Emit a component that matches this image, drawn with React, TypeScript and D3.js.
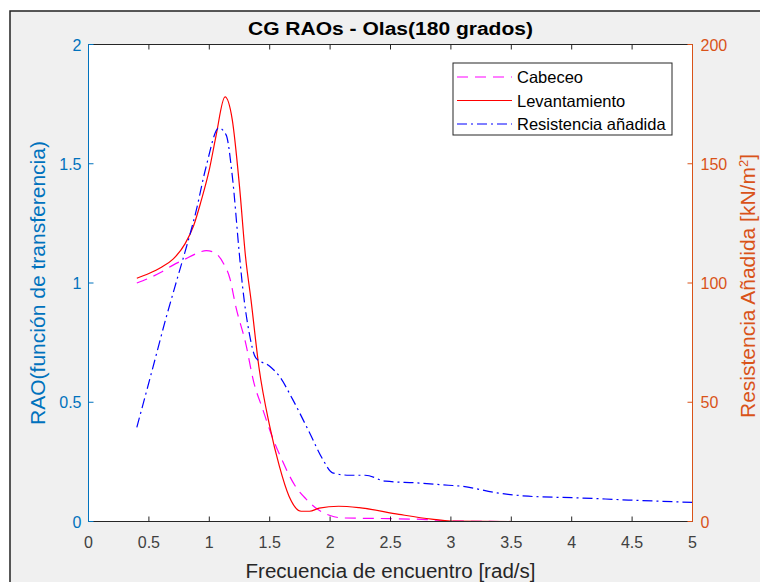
import React from "react";
import * as d3 from "d3";

const cabeceoF = [0.4, 0.5, 0.6, 0.7, 0.8, 0.9, 0.975, 1.05, 1.12, 1.17, 1.22, 1.3, 1.37, 1.44, 1.51, 1.6, 1.71, 1.8, 1.9, 2.0, 2.1, 2.5, 2.8, 3.0, 3.5, 4.0, 4.5, 5.0];
const cabeceoV = [1.0, 1.02, 1.045, 1.075, 1.1, 1.125, 1.136, 1.125, 1.08, 1.02, 0.9, 0.75, 0.58, 0.474, 0.37, 0.26, 0.15, 0.095, 0.05, 0.025, 0.015, 0.012, 0.008, 0.002, 0, 0, 0, 0];

const levantF = [0.4, 0.5, 0.6, 0.7, 0.8, 0.87, 0.93, 1.0, 1.055, 1.13, 1.19, 1.25, 1.3, 1.345, 1.41, 1.5, 1.58, 1.66, 1.76, 1.83, 1.91, 2.07, 2.24, 2.57, 2.84, 3.0, 3.5, 4.0, 4.5, 5.0];
const levantV = [1.02, 1.04, 1.065, 1.1, 1.165, 1.24, 1.34, 1.475, 1.615, 1.78, 1.685, 1.405, 1.11, 0.93, 0.65, 0.4, 0.232, 0.106, 0.043, 0.043, 0.056, 0.064, 0.058, 0.03, 0.01, 0.002, 0, 0, 0, 0];

const resistF = [0.4, 0.53, 0.64, 0.73, 0.81, 0.89, 0.97, 1.08, 1.14, 1.19, 1.25, 1.275, 1.33, 1.385, 1.5, 1.58, 1.69, 1.83, 1.94, 2.02, 2.16, 2.29, 2.46, 2.71, 2.98, 3.09, 3.37, 3.64, 4.06, 4.47, 5.0];
const resistV = [39.5, 64, 85, 101, 115, 130, 148, 165, 162, 145, 111.5, 98.7, 79.2, 68.6, 65.1, 60.9, 51.2, 37.2, 26, 20.4, 19.4, 19.4, 16.9, 16.2, 15.2, 14.8, 12.1, 10.6, 9.9, 9.0, 8.0];

const xTicks = [0, 0.5, 1, 1.5, 2, 2.5, 3, 3.5, 4, 4.5, 5];
const leftTicks = [0, 0.5, 1, 1.5, 2];
const rightTicks = [0, 50, 100, 150, 200];
const legendLabels = ["Cabeceo", "Levantamiento", "Resistencia añadida"];

const W = 760, H = 582;
const L = 88.5, R = 692.5, T = 44.5, B = 521.5;
const LEFT_C = "#0072BD";
const RIGHT_C = "#D95319";
const AX_C = "#262626";
const FONT = "'Liberation Sans', Arial, Helvetica, sans-serif";

export default function App() {
  const x = d3.scaleLinear().domain([0, 5]).range([L, R]);
  const yl = d3.scaleLinear().domain([0, 2]).range([B, T]);
  const yr = d3.scaleLinear().domain([0, 200]).range([B, T]);

  const mk = (fs: number[], vs: number[], y: d3.ScaleLinear<number, number>) =>
    d3.line<number>().x((_, i) => x(fs[i])).y((v) => y(v)).curve(d3.curveMonotoneX)(vs) || "";

  const pCab = mk(cabeceoF, cabeceoV, yl);
  const pLev = mk(levantF, levantV, yl);
  const pRes = mk(resistF, resistV, yr);

  const styles = [
    { stroke: "#FF00FF", dash: "11,7" },
    { stroke: "#FF0000", dash: "" },
    { stroke: "#0000FF", dash: "10,4,2,4" },
  ];
  const legY = [77, 100.5, 124];

  return (
    <svg width={W} height={H} style={{ position: "absolute", left: 0, top: 0 }} fontFamily={FONT}>
      <rect x={0} y={0} width={W} height={H} fill="#ffffff" />
      <rect x={10} y={11} width={W + 20} height={H + 20} fill="#f0f0f0" stroke="#222" strokeWidth={1.5} />
      <rect x={L} y={T} width={R - L} height={B - T} fill="#ffffff" />
      <defs>
        <clipPath id="pa">
          <rect x={L} y={T} width={R - L} height={B - T} />
        </clipPath>
      </defs>

      <g clipPath="url(#pa)" fill="none" strokeWidth={1.2}>
        <path d={pCab} stroke={styles[0].stroke} strokeDasharray={styles[0].dash} />
        <path d={pLev} stroke={styles[1].stroke} />
        <path d={pRes} stroke={styles[2].stroke} strokeDasharray={styles[2].dash} />
      </g>

      {/* x axis bottom & top */}
      <line x1={L} x2={R} y1={B} y2={B} stroke={AX_C} strokeWidth={1} />
      <line x1={L} x2={R} y1={T} y2={T} stroke={AX_C} strokeWidth={1} />
      {xTicks.map((t) => (
        <g key={"x" + t}>
          <line x1={x(t)} x2={x(t)} y1={B} y2={B - 5} stroke={AX_C} />
          <line x1={x(t)} x2={x(t)} y1={T} y2={T + 5} stroke={AX_C} />
          <text x={x(t)} y={B + 26} textAnchor="middle" fontSize={16} fill="#404040">{t}</text>
        </g>
      ))}

      {/* left axis */}
      <line x1={L} x2={L} y1={T} y2={B} stroke={LEFT_C} strokeWidth={1} />
      {leftTicks.map((t) => (
        <g key={"l" + t}>
          <line x1={L} x2={L + 5} y1={yl(t)} y2={yl(t)} stroke={LEFT_C} />
          <text x={L - 7} y={yl(t) + 6} textAnchor="end" fontSize={16} fill={LEFT_C}>{t}</text>
        </g>
      ))}
      <text transform={`translate(45,${(T + B) / 2}) rotate(-90)`} textAnchor="middle" fontSize={20} fill={LEFT_C}
        textLength={284} lengthAdjust="spacingAndGlyphs">
        RAO(función de transferencia)
      </text>

      {/* right axis */}
      <line x1={R} x2={R} y1={T} y2={B} stroke={RIGHT_C} strokeWidth={1} />
      {rightTicks.map((t) => (
        <g key={"r" + t}>
          <line x1={R} x2={R - 5} y1={yr(t)} y2={yr(t)} stroke={RIGHT_C} />
          <text x={R + 8} y={yr(t) + 6} textAnchor="start" fontSize={16} fill={RIGHT_C}>{t}</text>
        </g>
      ))}
      <text transform={`translate(755,${(T + B) / 2 + 3}) rotate(-90)`} textAnchor="middle" fontSize={21} fill={RIGHT_C}>
        Resistencia Añadida [kN/m<tspan fontSize={13} dy={-7}>2</tspan><tspan dy={7}>]</tspan>
      </text>

      {/* title & x label */}
      <text x={(L + R) / 2} y={35} textAnchor="middle" fontSize={18} fontWeight="bold" fill="#000"
        textLength={285} lengthAdjust="spacingAndGlyphs">
        CG RAOs - Olas(180 grados)
      </text>
      <text x={(L + R) / 2} y={578} textAnchor="middle" fontSize={20} fill="#262626"
        textLength={290} lengthAdjust="spacingAndGlyphs">
        Frecuencia de encuentro [rad/s]
      </text>

      {/* legend */}
      <rect x={453} y={63} width={219} height={72} fill="#ffffff" stroke={AX_C} strokeWidth={1} />
      {legendLabels.map((lab, i) => (
        <g key={lab}>
          <line x1={457} x2={512} y1={legY[i]} y2={legY[i]} stroke={styles[i].stroke} strokeDasharray={styles[i].dash} strokeWidth={1.2} />
          <text x={517} y={legY[i] + 6} fontSize={16.5} fill="#000">{lab}</text>
        </g>
      ))}
    </svg>
  );
}
